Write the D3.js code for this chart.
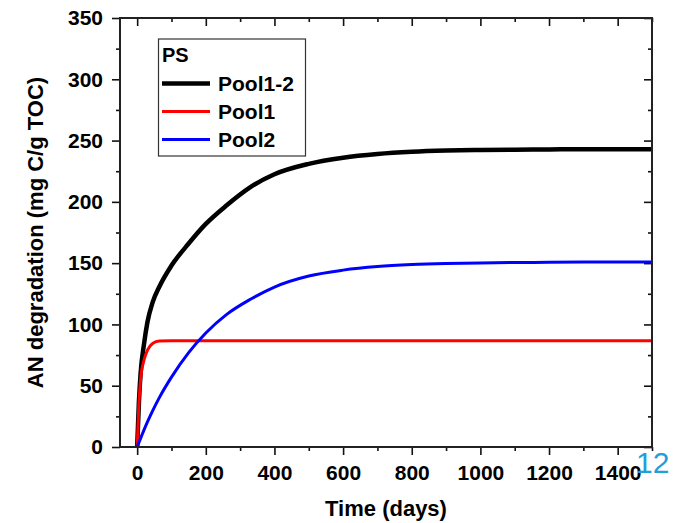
<!DOCTYPE html>
<html>
<head>
<meta charset="utf-8">
<script src="https://cdn.jsdelivr.net/npm/d3@7"></script>
<style>
  html, body { margin: 0; padding: 0; background: #fff; }
  svg text { font-family: "Liberation Sans", Arial, sans-serif; }
</style>
</head>
<body>
<svg id="chart" width="678" height="523"></svg>
<script>
// Cumulative AN degradation (mg C/g TOC) over time for the PS sample
const days = [0, 5, 10, 20, 30, 45, 65, 100, 150, 200, 260, 330, 400, 500, 600, 700, 800, 900, 1000, 1100, 1200, 1300, 1400, 1500];
const pool12 = [0, 36, 60, 84, 102, 118, 131, 148, 166, 182, 197, 212, 222.5, 231, 236, 239, 240.8, 241.8, 242.3, 242.6, 242.8, 243, 243, 243];
const pool1 = [0, 35, 55, 71, 79, 84.5, 86.5, 86.7, 86.7, 86.7, 86.7, 86.7, 86.7, 86.7, 86.7, 86.7, 86.7, 86.7, 86.7, 86.7, 86.7, 86.7, 86.7, 86.7];
const pool2 = [0, 3.6, 7, 14, 20.5, 29.5, 40.5, 57, 77, 93, 108, 120.5, 130.5, 139.5, 144.3, 147.2, 148.8, 149.7, 150.2, 150.5, 150.7, 150.85, 150.95, 151];

const seriesNames = ["Pool1-2", "Pool1", "Pool2"];
const seriesColors = ["#000000", "#ff0000", "#0000ff"];
const seriesWidths = [4.5, 3, 3];
const seriesValues = [pool12, pool1, pool2];

const xTickLabels = [0, 200, 400, 600, 800, 1000, 1200, 1400];
const yTickLabels = [0, 50, 100, 150, 200, 250, 300, 350];

const W = 678, H = 523;
const margin = { left: 120, top: 18, right: 26, bottom: 76 };
const iw = W - margin.left - margin.right;
const ih = H - margin.top - margin.bottom;

const svg = d3.select("#chart");
const g = svg.append("g").attr("transform", `translate(${margin.left},${margin.top})`);

const x = d3.scaleLinear().domain([-50, 1500]).range([0, iw]);
const y = d3.scaleLinear().domain([0, 350]).range([ih, 0]);

const xMinor = d3.range(0, 1501, 100).filter(v => v % 200 !== 0);
const yMinor = d3.range(25, 350, 50);

function styleAxis(sel) {
  sel.select(".domain").remove();
  sel.selectAll("line").attr("stroke", "#111").attr("stroke-width", 1.6);
  sel.selectAll("text")
    .attr("fill", "#000")
    .style("font-size", "21px")
    .style("font-weight", "bold");
}

// bottom axis (outward ticks)
g.append("g").attr("transform", `translate(0,${ih})`)
  .call(d3.axisBottom(x).tickValues(xTickLabels).tickSize(8).tickPadding(10).tickFormat(d3.format("d")))
  .call(styleAxis);
g.append("g").attr("transform", `translate(0,${ih})`)
  .call(d3.axisBottom(x).tickValues(xMinor).tickSize(4).tickFormat(""))
  .call(styleAxis);

// left axis (outward ticks)
g.append("g")
  .call(d3.axisLeft(y).tickValues(yTickLabels).tickSize(8).tickPadding(9).tickFormat(d3.format("d")))
  .call(styleAxis);
g.append("g")
  .call(d3.axisLeft(y).tickValues(yMinor).tickSize(4).tickFormat(""))
  .call(styleAxis);

// top axis (inward ticks, no labels)
g.append("g")
  .call(d3.axisTop(x).tickValues(xTickLabels).tickSize(-8).tickFormat(""))
  .call(styleAxis);
g.append("g")
  .call(d3.axisTop(x).tickValues(xMinor).tickSize(-4).tickFormat(""))
  .call(styleAxis);

// right axis (inward ticks, no labels)
g.append("g").attr("transform", `translate(${iw},0)`)
  .call(d3.axisRight(y).tickValues(yTickLabels).tickSize(-8).tickFormat(""))
  .call(styleAxis);
g.append("g").attr("transform", `translate(${iw},0)`)
  .call(d3.axisRight(y).tickValues(yMinor).tickSize(-4).tickFormat(""))
  .call(styleAxis);

// series curves
const line = d3.line()
  .x(d => x(d[0]))
  .y(d => y(d[1]))
  .curve(d3.curveMonotoneX);

seriesValues.forEach((vals, i) => {
  g.append("path")
    .datum(days.map((t, k) => [t, vals[k]]))
    .attr("fill", "none")
    .attr("stroke", seriesColors[i])
    .attr("stroke-width", seriesWidths[i])
    .attr("stroke-linejoin", "round")
    .attr("d", line);
});

// plot frame
g.append("rect")
  .attr("x", 0).attr("y", 0).attr("width", iw).attr("height", ih)
  .attr("fill", "none").attr("stroke", "#222").attr("stroke-width", 2);

// axis titles
svg.append("text")
  .attr("x", margin.left + iw / 2).attr("y", 516)
  .attr("text-anchor", "middle")
  .style("font-size", "22px").style("font-weight", "bold")
  .text("Time (days)");

svg.append("text")
  .attr("transform", `translate(43,${margin.top + ih / 2}) rotate(-90)`)
  .attr("text-anchor", "middle")
  .style("font-size", "22px").style("font-weight", "bold")
  .text("AN degradation (mg C/g TOC)");

// legend
const lg = svg.append("g");
lg.append("rect")
  .attr("x", 158.5).attr("y", 39).attr("width", 147).attr("height", 117)
  .attr("fill", "#fff").attr("stroke", "#333").attr("stroke-width", 1.2);
lg.append("text")
  .attr("x", 162).attr("y", 62)
  .style("font-size", "20px").style("font-weight", "bold")
  .text("PS");
seriesNames.forEach((name, i) => {
  const yy = 83.5 + i * 28;
  lg.append("line")
    .attr("x1", 162).attr("x2", 210).attr("y1", yy).attr("y2", yy)
    .attr("stroke", seriesColors[i]).attr("stroke-width", seriesWidths[i]);
  lg.append("text")
    .attr("x", 218).attr("y", yy + 7.5)
    .style("font-size", "21px").style("font-weight", "bold")
    .text(name);
});

// page number
svg.append("text")
  .attr("x", 636).attr("y", 473)
  .attr("fill", "#1ea0dc")
  .style("font-size", "30px")
  .text("12");
</script>
</body>
</html>
